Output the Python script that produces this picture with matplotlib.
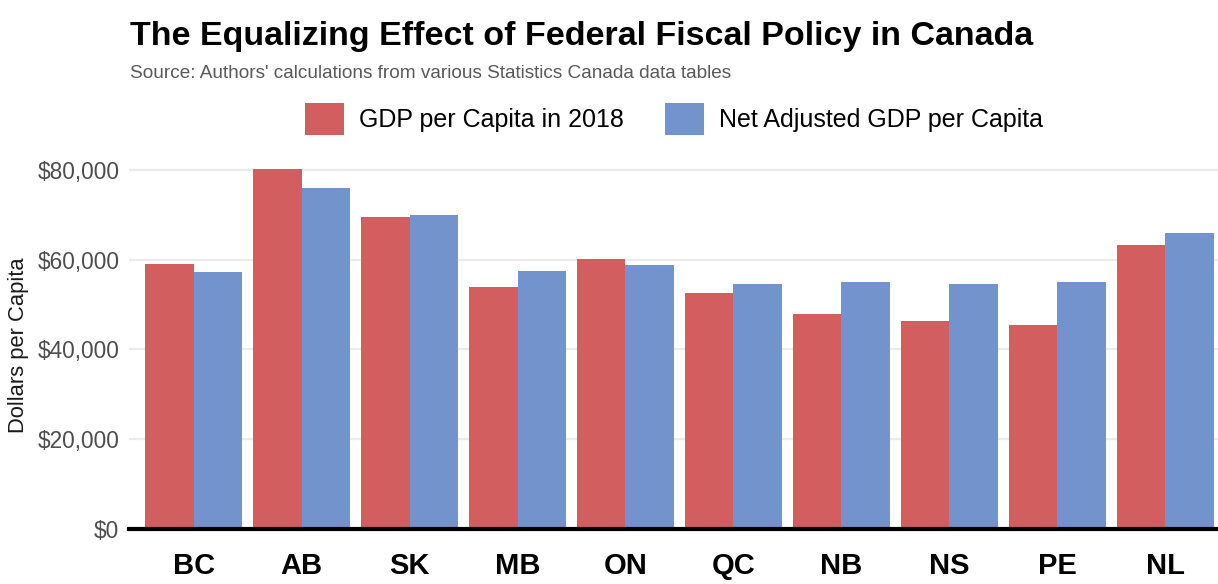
import numpy as np
import matplotlib.pyplot as plt
from matplotlib.patches import Patch
from matplotlib.ticker import FuncFormatter

provinces = ['BC', 'AB', 'SK', 'MB', 'ON', 'QC', 'NB', 'NS', 'PE', 'NL']
gdp_2018 = [59000, 80200, 69500, 53800, 60100, 52500, 47900, 46300, 45500, 63300]
net_adjusted = [57200, 75900, 69900, 57400, 58700, 54500, 55000, 54600, 55000, 66000]
series_names = ['GDP per Capita in 2018', 'Net Adjusted GDP per Capita']
yticks = [0, 20000, 40000, 60000, 80000]

red = '#D35E60'
blue = '#7293CB'

plt.rcParams['font.family'] = ['Liberation Sans', 'DejaVu Sans']

fig = plt.figure(figsize=(12.18, 5.84), dpi=100)
ax = fig.add_axes([129/1218, 54.7/584, 1 - 129/1218, (529.3 - 160.7)/584])

x = np.arange(len(provinces))
w = 0.45
ax.bar(x - w/2, gdp_2018, width=w, color=red, zorder=2)
ax.bar(x + w/2, net_adjusted, width=w, color=blue, zorder=2)

ax.set_xlim(-0.6, 9.49)
ax.set_ylim(0, 82000)
ax.set_yticks(yticks)
ax.yaxis.set_major_formatter(FuncFormatter(lambda v, p: '${:,.0f}'.format(v)))
ax.set_xticks(x)
ax.set_xticklabels(provinces, fontsize=21, fontweight='bold', color='black')
ax.tick_params(axis='y', labelsize=16.3, labelcolor='#4D4D4D', length=0, pad=7)
ax.tick_params(axis='x', length=0, pad=16)

ax.grid(axis='y', color='#EBEBEB', linewidth=1.6, zorder=0)
ax.set_axisbelow(True)
for s in ax.spines.values():
    s.set_visible(False)
ax.axhline(0, color='black', linewidth=3, zorder=3, clip_on=False)

ax.set_ylabel('Dollars per Capita', fontsize=15.8, color='#1A1A1A', labelpad=6)

fig.text(130/1218, 1 - 36/584, 'The Equalizing Effect of Federal Fiscal Policy in Canada',
         fontsize=24.5, fontweight='bold', ha='left', va='center')
fig.text(130/1218, 1 - 74/584, "Source: Authors' calculations from various Statistics Canada data tables",
         fontsize=13.7, color='#595959', ha='left', va='center')

handles = [Patch(facecolor=red), Patch(facecolor=blue)]
fig.legend(handles, series_names, loc='center', bbox_to_anchor=(674/1218, 1 - 119/584),
           ncol=2, frameon=False, fontsize=18, handlelength=1.55, handleheight=1.6,
           handletextpad=0.6, columnspacing=1.65)

fig.savefig('out.png', dpi=100)
